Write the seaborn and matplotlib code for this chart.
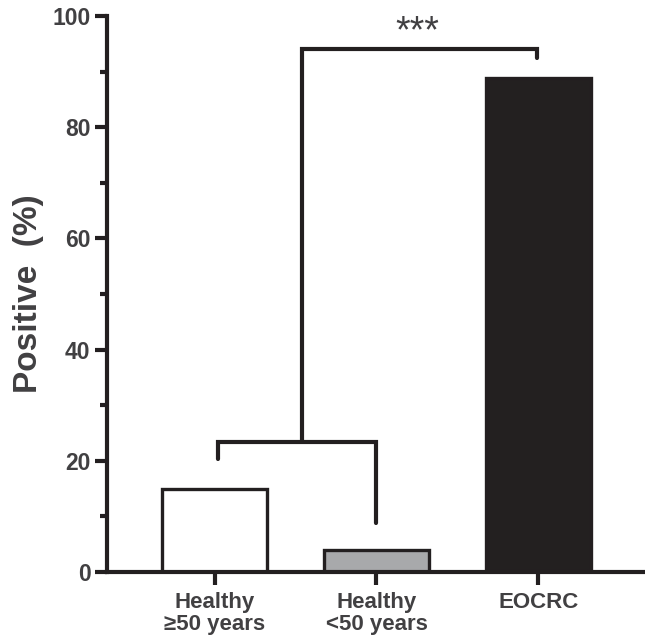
import matplotlib
matplotlib.use("Agg")
import matplotlib.pyplot as plt
import seaborn as sns
from matplotlib.ticker import MultipleLocator

# data
groups = ["Healthy\n\u226550 years", "Healthy\n<50 years", "EOCRC"]
positive_pct = [15.0, 3.9, 88.8]
bar_colors = ["#ffffff", "#a7a9ac", "#231f20"]

sns.set_style("ticks")
plt.rcParams["font.family"] = ["Liberation Sans", "DejaVu Sans"]
plt.rcParams["font.weight"] = "bold"

ink = "#231f20"
text_grey = "#414042"

fig = plt.figure(figsize=(6.45, 6.42), dpi=100)
ax = fig.add_axes([0.166, 0.109, 0.834, 0.866])

sns.barplot(x=groups, y=positive_pct, hue=groups, palette=bar_colors,
            edgecolor=ink, linewidth=2.4, width=0.65, legend=False, ax=ax)

ax.set_xlim(-0.665, 2.66)
ax.set_ylim(0, 100)
ax.yaxis.set_major_locator(MultipleLocator(20))
ax.yaxis.set_minor_locator(MultipleLocator(10))

for side in ["top", "right"]:
    ax.spines[side].set_visible(False)
for side in ["left", "bottom"]:
    ax.spines[side].set_linewidth(3)
    ax.spines[side].set_color(ink)
    ax.spines[side].set_capstyle("projecting")

ax.tick_params(axis="y", which="major", length=9, width=3, color=ink,
               labelsize=16.5, labelcolor=text_grey, pad=3)
ax.tick_params(axis="y", which="minor", length=5, width=3, color=ink)
ax.tick_params(axis="x", which="major", length=9.5, width=3, color=ink,
               labelsize=16, labelcolor=text_grey, pad=5)
for lab in ax.get_xticklabels() + ax.get_yticklabels():
    lab.set_fontweight("bold")
for lab in ax.get_xticklabels():
    lab.set_linespacing(1.05)

ax.set_ylabel("Positive  (%)", fontsize=24, fontweight="bold",
              color=text_grey, labelpad=6)
ax.set_xlabel("")

# significance brackets
lw = 3
ax.plot([0.02, 0.02, 1.0, 1.0], [20.3, 23.4, 23.4, 8.8],
        color=ink, lw=lw, solid_joinstyle="miter", clip_on=False)
ax.plot([0.54, 0.54, 1.99, 1.99], [23.4, 94.1, 94.1, 92.5],
        color=ink, lw=lw, solid_joinstyle="miter", clip_on=False)
ax.text(1.25, 95.3, "***", ha="center", va="baseline", fontsize=27,
        fontweight="normal", color=text_grey)

fig.savefig("out.png", dpi=100)
